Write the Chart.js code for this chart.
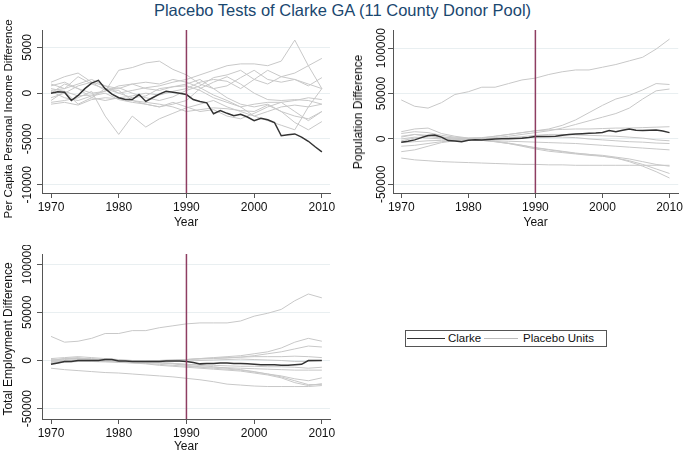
<!DOCTYPE html>
<html>
<head>
<meta charset="utf-8">
<script src="https://cdn.jsdelivr.net/npm/chart.js@4.4.1/dist/chart.umd.min.js"></script>
<style>
  body { margin: 0; background: #fff; font-family: "Liberation Sans", Arial, sans-serif; }
  #page { position: relative; width: 685px; height: 453px; overflow: hidden; }
  .panel { position: absolute; }
  #title { position: absolute; left: 0; top: 0; width: 685px; text-align: center; font-size: 16.5px; color: #1a476f; line-height: 20px; }
  .ytitle { position: absolute; font-size: 12px; color: #111; white-space: nowrap; transform: translate(-50%, -50%) rotate(-90deg); }
  #legend { position: absolute; left: 405px; top: 330px; width: 200px; height: 15px; border: 1px solid #555; font-size: 11.5px; color: #111; }
  #legend span { position: absolute; top: 0; line-height: 15px; white-space: nowrap; }
  #legend span.ln { top: 7px; height: 0; }
</style>
</head>
<body>
<div id="page">
  <div id="title">Placebo Tests of Clarke GA (11 County Donor Pool)</div>
  <div class="panel" style="left:0;top:20px;width:340px;height:210px"><canvas id="c1"></canvas></div>
  <div class="panel" style="left:345px;top:20px;width:340px;height:210px"><canvas id="c2"></canvas></div>
  <div class="panel" style="left:0;top:245px;width:340px;height:208px"><canvas id="c3"></canvas></div>
  <div class="ytitle" style="left:8px;top:119px;font-size:11.5px">Per Capita Personal Income Difference</div>
  <div class="ytitle" style="left:358px;top:112px">Population Difference</div>
  <div class="ytitle" style="left:8px;top:339px">Total Employment Difference</div>
  <div id="legend">
    <span class="ln" style="left:1px;width:38px;border-top:1.5px solid #333"></span>
    <span style="left:42px">Clarke</span>
    <span class="ln" style="left:78px;width:34px;border-top:1px solid #bbb"></span>
    <span style="left:117px">Placebo Units</span>
  </div>
</div>
<script>
// annual years for the treated county, 2-year steps for placebo traces
const years = [];
for (let y = 1970; y <= 2010; y++) years.push(y);
const placeboYears = [1970,1972,1974,1976,1978,1980,1982,1984,1986,1988,1990,1992,1994,1996,1998,2000,2002,2004,2006,2008,2010];
const xTicks = [1970, 1980, 1990, 2000, 2010];
const treatYear = 1990;

// Per capita personal income difference
const incomeClarke = [0,150,100,-800,-250,500,1100,1400,500,-100,
  -500,-700,-700,-150,-900,-500,-100,200,100,0,
  -150,-700,-900,-1050,-2250,-1900,-2200,-2450,-2300,-2600,
  -3000,-2750,-2900,-3200,-4650,-4550,-4450,-4800,-5250,-5850,-6400];
const incomePlacebos = [
  [1000,500,1800,1000,500,0,300,600,800,1200,1500,2000,2500,3000,3200,3200,3000,3500,5800,3000,500],
  [500,200,-300,-200,200,2500,2800,3300,3500,2600,2000,1000,500,-500,-1200,-1500,-1200,-2000,-2500,-2800,-2000],
  [-1000,-800,-500,200,-2500,-4500,-2500,-3700,-2800,-2200,-1600,-1200,-800,-1500,-2000,-2500,-2000,-1500,-1300,-1500,-1200],
  [0,1000,500,-500,-800,-500,-300,0,-200,200,500,1200,1500,1300,500,1500,2500,1800,2200,3000,3800],
  [-500,0,800,1200,300,600,0,-500,-800,-400,300,800,1700,2000,2500,1500,1000,1800,1500,800,1700],
  [1200,1800,2200,1200,800,500,1000,1200,1000,1500,1200,600,-200,-800,-1500,-2500,-3000,-3500,-4000,-1500,500],
  [-800,200,-1200,-500,500,300,-800,-1200,-1500,-1000,-1500,-2000,-1800,-2500,-2800,-2200,-1500,-1000,-800,-500,-700],
  [300,500,1000,1500,800,0,-500,-300,500,700,800,300,-500,-1000,-1500,-1200,-1000,-1000,-2000,-3000,-2000],
  [200,-500,-800,-300,0,-700,-1000,-1200,-1500,-1200,-800,500,1200,1800,1000,0,-700,-800,-700,-800,-1200],
  [-1200,-1000,-1300,-700,-500,-600,-800,-1000,-1200,-1500,-2000,-1800,-1600,-1700,-1900,-2000,-1300,-2000,-3200,-4000,-3100],
  [800,1200,500,0,200,800,1000,500,300,700,1000,1500,500,800,1700,2500,1500,1200,1500,1000,500]
];
const incomeTicks = [-10000, -5000, 0, 5000];

// Population difference
const popClarke = [-3700,-2500,-1000,1500,3700,4400,2000,-1800,-2200,-3000,
  -1500,-800,-1000,-500,0,200,300,500,800,1500,
  2600,2700,2800,3000,4200,5000,5500,5800,6200,6500,
  7200,9200,8000,9500,11000,9500,9300,9600,9900,8800,7000];
const popPlacebos = [
  [43000,36000,34000,40000,49000,52000,57000,57000,61000,65000,67000,71000,74000,76000,76000,79000,82000,86000,90000,99000,110000],
  [8000,11000,12000,6000,3000,1000,1000,3000,5000,7000,9000,11000,15000,21000,29000,37000,44000,48000,54000,61000,60000],
  [2000,5000,3000,1000,0,-500,500,1500,3000,5000,7000,9000,12000,16000,20000,24000,28000,34000,44000,53000,55000],
  [6000,8000,7000,4000,2000,1000,1500,3000,5000,7000,9000,10000,10500,11000,11000,11500,12000,12000,12500,13000,13500],
  [-2000,1000,3000,2000,1000,0,0,500,1500,2500,4000,5000,5000,4500,4000,3500,3000,2000,1000,-1000,-2000],
  [0,2000,1000,0,-1000,-1000,-1500,-2000,-2500,-3000,-3500,-4000,-4500,-5000,-6000,-7000,-8000,-9000,-10000,-11000,-12000],
  [-21000,-23000,-24000,-25000,-25500,-26000,-26500,-27000,-27500,-28000,-28000,-28500,-28500,-29000,-29000,-29000,-29000,-29000,-29000,-29000,-29000],
  [-8000,-7000,-5000,-3000,-2000,-1000,-1500,-3000,-5000,-7000,-10000,-12000,-14000,-16000,-17000,-18000,-20000,-22000,-25000,-28000,-30000],
  [-14000,-12000,-8000,-4000,-2000,0,-1000,-2500,-4500,-7000,-9500,-11500,-13500,-15500,-17000,-19000,-21000,-24000,-28000,-33000,-38000],
  [-4000,-3000,-2000,-1500,-1000,-500,-1500,-3000,-5000,-8000,-11000,-13500,-15000,-16500,-18000,-19000,-21000,-25000,-30000,-36000,-43000],
  [3000,5000,4000,2000,1000,0,0,500,1000,1500,2000,2500,2000,1500,0,-1000,-2000,-3000,-3500,-4500,-5000]
];
const popTicks = [-50000, 0, 50000, 100000];

// Total employment difference
const empClarke = [-4000,-2500,-1000,-1000,0,0,0,0,1000,1000,
  -500,-500,-1000,-1000,-1000,-1000,-1000,-500,-500,-500,
  -1000,-2000,-3500,-3000,-3000,-2500,-2500,-3000,-3000,-3500,
  -4000,-4500,-4500,-4500,-5000,-5000,-4500,-4000,0,0,0];
const empPlacebos = [
  [25000,19000,20000,23000,28000,28000,31000,31000,34000,36000,38000,39000,39000,39000,41000,46000,49000,53000,62000,69000,65000],
  [0,2000,3000,1000,0,-500,-1000,-1000,-500,0,1000,2000,3000,4000,5000,7000,9000,13000,19000,23000,20000],
  [-1000,1000,2000,2000,1000,0,-500,-500,0,500,1000,1500,2000,2500,3500,5000,7000,9000,12000,15000,14000],
  [2000,3000,4000,3000,2000,1000,0,-500,0,500,1000,2000,2500,3000,3500,4000,4000,4000,4500,4000,3000],
  [1000,0,-1000,-1000,-1000,-1000,-1500,-1500,-1500,-1000,-500,0,500,1000,1500,1000,500,0,-1000,-1000,0],
  [-2000,-1000,0,0,-500,-1000,-1500,-2000,-2500,-3000,-4000,-4500,-5000,-5500,-6000,-6000,-6500,-6500,-7000,-8000,-7000],
  [0,2000,2000,1000,0,-1000,-1500,-2000,-2500,-3500,-5000,-6500,-7000,-7500,-8000,-8500,-9000,-9500,-10000,-10000,-10000],
  [-3000,-2000,-1000,-1000,-1500,-2000,-2500,-3000,-4000,-5000,-6000,-7000,-8000,-9000,-10000,-12000,-14000,-16000,-19000,-21000,-18000],
  [-1000,0,1000,500,-500,-1500,-2500,-3500,-5000,-6000,-7000,-8000,-9000,-10000,-11000,-13000,-15000,-18000,-23000,-26000,-24000],
  [-8000,-9500,-10500,-11500,-12500,-13000,-14000,-15000,-16000,-17000,-18500,-20000,-22000,-24500,-25500,-26500,-27000,-27000,-27000,-27000,-26000],
  [-1500,-1000,0,500,0,-500,-1000,-1500,-2000,-3000,-4000,-5000,-6500,-8000,-9500,-11500,-14000,-17000,-21000,-25000,-25000]
];
const empTicks = [-50000, 0, 50000, 100000];

const FONT = "'Liberation Sans', Arial, sans-serif";
const axisColor = '#555';
const gridColor = '#e9eff1';

function makeChart(id, cfg) {
  const datasets = [];
  // treatment year line (drawn on top)
  datasets.push({
    data: [{x: treatYear, y: cfg.yMin}, {x: treatYear, y: cfg.yMax}],
    borderColor: '#8e3d62', borderWidth: 1.5, pointRadius: 0, order: 0
  });
  datasets.push({
    data: years.map((x, i) => ({x, y: cfg.clarke[i]})),
    borderColor: '#333', borderWidth: 1.5, pointRadius: 0, order: 1
  });
  cfg.placebos.forEach(p => {
    datasets.push({
      data: placeboYears.map((x, i) => ({x, y: p[i]})),
      borderColor: '#c8c8c8', borderWidth: 1, pointRadius: 0, order: 2
    });
  });

  return new Chart(document.getElementById(id), {
    type: 'line',
    data: { datasets },
    options: {
      responsive: true, maintainAspectRatio: false, animation: false,
      layout: { padding: cfg.pad },
      plugins: { legend: { display: false }, tooltip: { enabled: false } },
      elements: { line: { tension: 0 } },
      scales: {
        x: {
          type: 'linear', min: cfg.xMin, max: cfg.xMax,
          afterBuildTicks: s => { s.ticks = xTicks.map(v => ({value: v})); },
          afterFit: s => { s.height = cfg.xH; },
          ticks: { color: '#111', font: {family: FONT, size: 12}, padding: 2, maxRotation: 0,
                   callback: v => String(v) },
          grid: { drawOnChartArea: false, tickLength: 5, tickColor: axisColor, color: axisColor },
          border: { color: axisColor, width: 1 },
          title: { display: true, text: 'Year', color: '#111', font: {family: FONT, size: 12}, padding: {top: 0, bottom: cfg.yearPad} }
        },
        y: {
          type: 'linear', min: cfg.yMin, max: cfg.yMax,
          afterBuildTicks: s => { s.ticks = cfg.yTicks.map(v => ({value: v})); },
          afterFit: s => { s.width = cfg.yW; },
          ticks: { color: '#111', font: {family: FONT, size: 12}, minRotation: 90, maxRotation: 90,
                   crossAlign: 'center', padding: cfg.tickPad, callback: v => String(v) },
          grid: { color: gridColor, tickLength: 5, tickColor: axisColor },
          border: { color: axisColor, width: 1 }
        }
      }
    }
  });
}

makeChart('c1', {
  clarke: incomeClarke, placebos: incomePlacebos, yTicks: incomeTicks,
  yMin: -10900, yMax: 6900, xMin: 1968.67, xMax: 2011.2,
  pad: {left: 0, top: 10, right: 10, bottom: 0}, yW: 42, xH: 37, tickPad: -9.5, yearPad: 0
});
makeChart('c2', {
  clarke: popClarke, placebos: popPlacebos, yTicks: popTicks,
  yMin: -59500, yMax: 120000, xMin: 1968.77, xMax: 2011.3,
  pad: {left: 0, top: 10, right: 4, bottom: 0}, yW: 48, xH: 37, tickPad: -13.5, yearPad: 0
});
makeChart('c3', {
  clarke: empClarke, placebos: empPlacebos, yTicks: empTicks,
  yMin: -60700, yMax: 110500, xMin: 1968.67, xMax: 2011.2,
  pad: {left: 0, top: 9, right: 10, bottom: 0}, yW: 42, xH: 34, tickPad: -11, yearPad: -1
});
</script>
</body>
</html>
